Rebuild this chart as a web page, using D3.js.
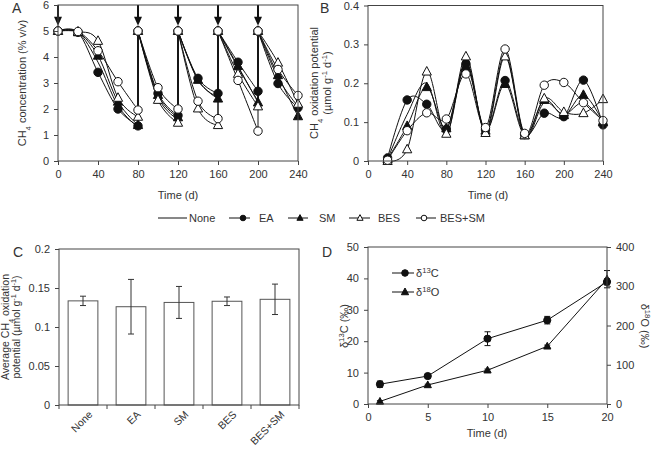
<!DOCTYPE html>
<html>
<head>
<meta charset="utf-8">
<script src="https://cdn.jsdelivr.net/npm/d3@7"></script>
<style>
  body { margin: 0; background: #fff; }
  svg text { font-family: "Liberation Sans", Arial, sans-serif; fill: #333; }
  .axis path, .axis line { stroke: #444; }
  .axis text { font-size: 11px; fill: #333; }
</style>
</head>
<body>
<div id="chart"></div>
<script>
// ---- 数据 ----
const seriesNames = ["None", "EA", "SM", "BES", "BES+SM"];
const markerTypes = ["none", "circleFilled", "triFilled", "triOpen", "circleOpen"];

// A: CH4 浓度，80/120/160/200 天处重新加气（两个点）
const timeA = [0, 20, 40, 60, 80, 80, 100, 120, 120, 140, 160, 160, 180, 200, 200, 220, 240];
const concNone  = [5, 4.95, 3.8, 2.12, 1.3, 5, 2.45, 1.6, 5, 3.1, 2.45, 5, 3.6, 2.3, 5, 3.2, 2.1];
const concEA    = [5, 4.95, 3.41, 2.0, 1.35, 5, 2.6, 1.75, 5, 3.18, 2.6, 5, 3.8, 2.68, 5, 2.98, 2.05];
const concSM    = [5, 4.95, 4.05, 2.28, 1.38, 5, 2.54, 1.68, 5, 3.12, 2.4, 5, 3.65, 2.25, 5, 3.3, 1.72];
const concBES   = [5, 4.98, 4.62, 2.43, 1.7, 5, 2.35, 1.47, 5, 2.02, 1.38, 5, 3.35, 2.1, 5, 3.78, 2.2];
const concBESSM = [5, 4.98, 4.24, 3.05, 1.96, 5, 2.82, 2.0, 5, 2.3, 1.63, 5, 3.1, 1.15, 5, 3.52, 2.52];
const concSeries = [concNone, concEA, concSM, concBES, concBESSM];
const arrowDays = [0, 80, 120, 160, 200];

// B: CH4 氧化潜力
const timeB = [20, 40, 60, 80, 100, 120, 140, 160, 180, 200, 220, 240];
const potNone  = [0.005, 0.12, 0.2, 0.068, 0.255, 0.078, 0.275, 0.065, 0.15, 0.12, 0.15, 0.1];
const potEA    = [0.008, 0.157, 0.146, 0.082, 0.25, 0.08, 0.207, 0.068, 0.123, 0.114, 0.208, 0.093];
const potSM    = [0.005, 0.09, 0.19, 0.084, 0.243, 0.078, 0.198, 0.066, 0.157, 0.118, 0.17, 0.1];
const potBES   = [0.0, 0.03, 0.23, 0.07, 0.269, 0.072, 0.269, 0.066, 0.161, 0.126, 0.123, 0.159];
const potBESSM = [0.002, 0.078, 0.124, 0.108, 0.224, 0.086, 0.288, 0.071, 0.195, 0.202, 0.15, 0.104];
const potSeries = [potNone, potEA, potSM, potBES, potBESSM];

// C: 平均氧化潜力
const avgValues = [0.1335, 0.126, 0.1315, 0.133, 0.1355];
const avgErrors = [0.006, 0.035, 0.0205, 0.0055, 0.0195];

// D: 同位素
const timeD = [1, 5, 10, 15, 20];
const d13C = [6.3, 8.9, 20.8, 26.7, 38.9];
const d13CErr = [1.0, 0.6, 2.2, 1.2, 1.0];
const d18O = [6.5, 48.5, 86, 147, 318];
const d18OErr = [2, 2, 3, 3, 22];

// ---- 画布 ----
const W = 652, H = 450;
const svg = d3.select("#chart").append("svg").attr("width", W).attr("height", H);

function drawMarker(g, type, x, y, r) {
    if (type === "none") return;
    if (type.startsWith("circle")) {
        g.append("circle").attr("cx", x).attr("cy", y).attr("r", r)
            .attr("fill", type === "circleFilled" ? "#111" : "#fff")
            .attr("stroke", "#111").attr("stroke-width", 1);
    } else {
        const s = r * 1.1;
        const pts = [[x, y - s * 1.1], [x + s, y + s * 0.75], [x - s, y + s * 0.75]];
        g.append("polygon").attr("points", pts.map(p => p.join(",")).join(" "))
            .attr("fill", type === "triFilled" ? "#111" : "#fff")
            .attr("stroke", "#111").attr("stroke-width", 1);
    }
}

function frame(g, x0, x1, y0, y1) {
    g.append("rect").attr("x", x0).attr("y", y0).attr("width", x1 - x0).attr("height", y1 - y0)
        .attr("fill", "none").attr("stroke", "#444").attr("stroke-width", 1);
}

function styleAxis(sel) {
    sel.attr("class", "axis");
    sel.select(".domain").remove();
    sel.selectAll(".tick line").attr("stroke", "#444");
}

function panelLetter(txt, x, y) {
    svg.append("text").attr("x", x).attr("y", y).attr("font-size", 14).text(txt);
}

// 带下标/上标的文字
function richText(parent, parts, attrs) {
    const t = parent.append("text");
    Object.entries(attrs).forEach(([k, v]) => t.attr(k, v));
    parts.forEach(p => {
        const sp = t.append("tspan").text(p.t);
        if (p.sub) sp.attr("baseline-shift", "sub").attr("font-size", "0.7em");
        if (p.sup) sp.attr("baseline-shift", "super").attr("font-size", "0.7em");
    });
    return t;
}

// Excel 风格的平滑线
const smooth = d3.curveCardinal.tension(0);

// ---- 面板 A ----
(function () {
    const x = d3.scaleLinear().domain([0, 240]).range([58, 298]);
    const y = d3.scaleLinear().domain([0, 6]).range([161, 5]);
    const g = svg.append("g");
    const line = d3.line().x(d => x(d[0])).y(d => y(d[1])).curve(smooth);

    concSeries.forEach((vals, si) => {
        const pts = timeA.map((t, i) => [t, vals[i]]);
        // 按重新加气点拆成周期
        let seg = [pts[0]];
        const segs = [];
        for (let i = 1; i < pts.length; i++) {
            if (pts[i][0] === pts[i - 1][0]) {
                segs.push(seg);
                g.append("line").attr("x1", x(pts[i][0])).attr("x2", x(pts[i][0]))
                    .attr("y1", y(pts[i - 1][1])).attr("y2", y(pts[i][1]))
                    .attr("stroke", "#111").attr("stroke-width", 1);
                seg = [pts[i]];
            } else seg.push(pts[i]);
        }
        segs.push(seg);
        segs.forEach(s => g.append("path").attr("d", line(s)).attr("fill", "none")
            .attr("stroke", "#111").attr("stroke-width", 1));
    });
    concSeries.forEach((vals, si) => {
        timeA.forEach((t, i) => drawMarker(g, markerTypes[si], x(t), y(vals[i]), 4.2));
    });

    // 箭头
    arrowDays.forEach(d => {
        g.append("line").attr("x1", x(d)).attr("x2", x(d)).attr("y1", y(6)).attr("y2", y(5.5))
            .attr("stroke", "#111").attr("stroke-width", 2);
        g.append("polygon")
            .attr("points", `${x(d) - 4},${y(5.55)} ${x(d) + 4},${y(5.55)} ${x(d)},${y(5.2)}`)
            .attr("fill", "#111");
    });

    frame(g, 58, 298, 5, 161);
    g.append("g").attr("transform", "translate(0,161)")
        .call(d3.axisBottom(x).tickValues([0, 40, 80, 120, 160, 200, 240]).tickSize(4).tickPadding(5))
        .call(styleAxis);
    g.append("g").attr("transform", "translate(58,0)")
        .call(d3.axisLeft(y).ticks(6).tickSize(4).tickPadding(5))
        .call(styleAxis);

    g.append("text").attr("x", 178).attr("y", 199).attr("text-anchor", "middle")
        .attr("font-size", 11).text("Time (d)");
    richText(g, [{ t: "CH" }, { t: "4", sub: true }, { t: " concentration (% v/v)" }],
        { "transform": "translate(26,83) rotate(-90)", "text-anchor": "middle", "font-size": 11 });
    panelLetter("A", 12, 13);
})();

// ---- 面板 B ----
(function () {
    const x = d3.scaleLinear().domain([0, 240]).range([368, 603]);
    const y = d3.scaleLinear().domain([0, 0.4]).range([161, 5.5]);
    const g = svg.append("g");
    const line = d3.line().x(d => x(d[0])).y(d => y(d[1])).curve(smooth);

    potSeries.forEach((vals, si) => {
        g.append("path").attr("d", line(timeB.map((t, i) => [t, vals[i]])))
            .attr("fill", "none").attr("stroke", "#111").attr("stroke-width", 1);
    });
    potSeries.forEach((vals, si) => {
        timeB.forEach((t, i) => drawMarker(g, markerTypes[si], x(t), y(vals[i]), 4.2));
    });

    frame(g, 368, 603, 5.5, 161);
    g.append("g").attr("transform", "translate(0,161)")
        .call(d3.axisBottom(x).tickValues([0, 40, 80, 120, 160, 200, 240]).tickSize(4).tickPadding(5))
        .call(styleAxis);
    g.append("g").attr("transform", "translate(368,0)")
        .call(d3.axisLeft(y).tickValues([0, 0.1, 0.2, 0.3, 0.4]).tickFormat(d => d === 0 ? "0" : d3.format(".1f")(d)).tickSize(4).tickPadding(5))
        .call(styleAxis);

    g.append("text").attr("x", 488).attr("y", 199).attr("text-anchor", "middle")
        .attr("font-size", 11).text("Time (d)");
    richText(g, [{ t: "CH" }, { t: "4", sub: true }, { t: " oxidation potential" }],
        { "transform": "translate(318,83) rotate(-90)", "text-anchor": "middle", "font-size": 11 });
    richText(g, [{ t: "(µmol g" }, { t: "-1", sup: true }, { t: " d" }, { t: "-1", sup: true }, { t: ")" }],
        { "transform": "translate(331,83) rotate(-90)", "text-anchor": "middle", "font-size": 11 });
    panelLetter("B", 320, 13);
})();

// ---- 图例 ----
(function () {
    const g = svg.append("g");
    const items = [
        { x1: 158, x2: 187, mx: null, tx: 189 },
        { x1: 229, x2: 250, mx: 243, tx: 259 },
        { x1: 288, x2: 308, mx: 300, tx: 319 },
        { x1: 349, x2: 370, mx: 360, tx: 378 },
        { x1: 416, x2: 436, mx: 424, tx: 440 }
    ];
    const ly = 218;
    items.forEach((it, i) => {
        g.append("line").attr("x1", it.x1).attr("x2", it.x2).attr("y1", ly).attr("y2", ly)
            .attr("stroke", "#111").attr("stroke-width", 1);
        if (it.mx !== null) drawMarker(g, markerTypes[i], it.mx, ly, 2.8);
        g.append("text").attr("x", it.tx).attr("y", ly + 4).attr("font-size", 11).text(seriesNames[i]);
    });
})();

// ---- 面板 C ----
(function () {
    const x = d3.scaleBand().domain(seriesNames).range([59, 299]).paddingInner(0.38).paddingOuter(0.19);
    const y = d3.scaleLinear().domain([0, 0.2]).range([405, 249]);
    const g = svg.append("g");

    g.selectAll("rect.bar").data(avgValues).enter().append("rect")
        .attr("class", "bar")
        .attr("x", (d, i) => x(seriesNames[i]))
        .attr("y", d => y(d))
        .attr("width", x.bandwidth())
        .attr("height", d => 405 - y(d))
        .attr("fill", "#fff").attr("stroke", "#555").attr("stroke-width", 1);

    avgValues.forEach((v, i) => {
        const cx = x(seriesNames[i]) + x.bandwidth() / 2;
        const e = avgErrors[i];
        g.append("line").attr("x1", cx).attr("x2", cx).attr("y1", y(v + e)).attr("y2", y(v - e))
            .attr("stroke", "#333").attr("stroke-width", 1);
        [v + e, v - e].forEach(vv => g.append("line").attr("x1", cx - 3).attr("x2", cx + 3)
            .attr("y1", y(vv)).attr("y2", y(vv)).attr("stroke", "#333").attr("stroke-width", 1));
    });

    frame(g, 59, 299, 249, 405);
    // 类别分界刻度
    const step = 240 / seriesNames.length;
    d3.range(seriesNames.length + 1).forEach(i => {
        g.append("line").attr("x1", 59 + i * step).attr("x2", 59 + i * step)
            .attr("y1", 405).attr("y2", 409).attr("stroke", "#444");
    });
    seriesNames.forEach((n, i) => {
        const cx = 59 + (i + 0.5) * step;
        g.append("text").attr("transform", `translate(${cx + 5},${410}) rotate(-45)`)
            .attr("text-anchor", "end").attr("dy", "0.7em").attr("font-size", 10.5).text(n);
    });
    g.append("g").attr("transform", "translate(59,0)")
        .call(d3.axisLeft(y).tickValues([0, 0.05, 0.1, 0.15, 0.2]).tickFormat(d => d === 0 ? "0" : String(+d.toFixed(2))).tickSize(4).tickPadding(5))
        .call(styleAxis);

    richText(g, [{ t: "Average CH" }, { t: "4", sub: true }, { t: " oxidation" }],
        { "transform": "translate(9,327) rotate(-90)", "text-anchor": "middle", "font-size": 10.5 });
    richText(g, [{ t: "potential (µmol g" }, { t: "-1", sup: true }, { t: " d" }, { t: "-1", sup: true }, { t: ")" }],
        { "transform": "translate(20,327) rotate(-90)", "text-anchor": "middle", "font-size": 10.5 });
    panelLetter("C", 13, 257);
})();

// ---- 面板 D ----
(function () {
    const x = d3.scaleLinear().domain([0, 20]).range([368, 607]);
    const yL = d3.scaleLinear().domain([0, 50]).range([404, 247]);
    const yR = d3.scaleLinear().domain([0, 400]).range([404, 247]);
    const g = svg.append("g");
    const line = d3.line();

    g.append("path").attr("d", line(timeD.map((t, i) => [x(t), yL(d13C[i])])))
        .attr("fill", "none").attr("stroke", "#111").attr("stroke-width", 1);
    g.append("path").attr("d", line(timeD.map((t, i) => [x(t), yR(d18O[i])])))
        .attr("fill", "none").attr("stroke", "#111").attr("stroke-width", 1);

    function errBar(cx, top, bot) {
        g.append("line").attr("x1", cx).attr("x2", cx).attr("y1", top).attr("y2", bot)
            .attr("stroke", "#111").attr("stroke-width", 1);
        [top, bot].forEach(yy => g.append("line").attr("x1", cx - 3).attr("x2", cx + 3)
            .attr("y1", yy).attr("y2", yy).attr("stroke", "#111").attr("stroke-width", 1));
    }
    timeD.forEach((t, i) => {
        errBar(x(t), yL(d13C[i] + d13CErr[i]), yL(d13C[i] - d13CErr[i]));
        errBar(x(t), yR(d18O[i] + d18OErr[i]), yR(d18O[i] - d18OErr[i]));
    });
    timeD.forEach((t, i) => {
        drawMarker(g, "circleFilled", x(t), yL(d13C[i]), 3.6);
        drawMarker(g, "triFilled", x(t), yR(d18O[i]), 3.3);
    });

    frame(g, 368, 607, 247, 404);
    g.append("g").attr("transform", "translate(0,404)")
        .call(d3.axisBottom(x).tickValues([0, 5, 10, 15, 20]).tickSize(4).tickPadding(5))
        .call(styleAxis);
    g.append("g").attr("transform", "translate(368,0)")
        .call(d3.axisLeft(yL).tickValues([0, 10, 20, 30, 40, 50]).tickSize(4).tickPadding(5))
        .call(styleAxis);
    g.append("g").attr("transform", "translate(607,0)")
        .call(d3.axisRight(yR).tickValues([0, 100, 200, 300, 400]).tickSize(4).tickPadding(5))
        .call(styleAxis);

    // 图例
    [[273, "circleFilled", "13", "C"], [292, "triFilled", "18", "O"]].forEach(([ly, m, sup, el]) => {
        g.append("line").attr("x1", 392).attr("x2", 414).attr("y1", ly).attr("y2", ly)
            .attr("stroke", "#111").attr("stroke-width", 1);
        drawMarker(g, m, 405, ly, 3.3);
        richText(g, [{ t: "δ" }, { t: sup, sup: true }, { t: el }],
            { x: 416, y: ly + 4, "font-size": 11 });
    });

    g.append("text").attr("x", 487).attr("y", 437).attr("text-anchor", "middle")
        .attr("font-size", 11).text("Time (d)");
    richText(g, [{ t: "δ" }, { t: "13", sup: true }, { t: "C (‰)" }],
        { "transform": "translate(348,326) rotate(-90)", "text-anchor": "middle", "font-size": 11 });
    richText(g, [{ t: "δ" }, { t: "18", sup: true }, { t: "O (‰)" }],
        { "transform": "translate(641,326) rotate(90)", "text-anchor": "middle", "font-size": 11 });
    panelLetter("D", 322, 257);
})();
</script>
</body>
</html>
